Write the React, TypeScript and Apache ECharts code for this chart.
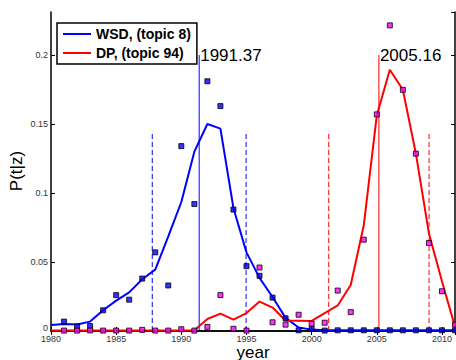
import React, { useEffect, useRef } from "react";
import * as echarts from "echarts";

const startYear = 1980;
const xMin = 1980;
const xMax = 2011;
const yMax = 0.2312;

// smoothed curves, 1980..2011
const wsdLine = [
  0.0044, 0.005, 0.0047, 0.0068, 0.015, 0.022, 0.028, 0.0375, 0.0445, 0.0686,
  0.0935, 0.13, 0.15, 0.1467, 0.089, 0.057, 0.0385, 0.0246, 0.0095, 0.0025,
  0.001, 0.0005, 0.0005, 0.0005, 0.0005, 0.0005, 0.0005, 0.0005, 0.0005, 0.0005,
  0.0005, 0.0005,
];
const dpLine = [
  0.0003, 0.0003, 0.0003, 0.0003, 0.0003, 0.0003, 0.0003, 0.0003, 0.0003, 0.0003,
  0.0003, 0.0006, 0.0087, 0.0126, 0.0082, 0.013, 0.0213, 0.017, 0.0076, 0.0075,
  0.0073, 0.013, 0.0185, 0.0333, 0.0766, 0.1563, 0.1894, 0.1748, 0.1285, 0.0706,
  0.036, 0.003,
];
// raw yearly points, 1981..2011
const dotStartYear = 1981;
const wsdDots = [
  0.0068, 0.0034, 0.0036, 0.015, 0.026, 0.0227, 0.038, 0.057, 0.033, 0.134,
  0.092, 0.181, 0.163, 0.088, 0.047, 0.04, 0.0242, 0.0092, 0.0005, 0.0015,
  0.0003, 0.0005, 0.0005, 0.0005, 0.0005, 0.0005, 0.0005, 0.0005, 0.0005, 0.0005,
  0.0005,
];
const dpDots = [
  0.0003, 0.0003, 0.0004, 0.0003, 0.0003, 0.0003, 0.0008, 0.0003, 0.0003, 0.0013,
  0.0003, 0.003, 0.026, 0.0016, 0.0003, 0.046, 0.0063, 0.0046, 0.0118, 0.0053,
  0.006, 0.0293, 0.0137, 0.0662, 0.157, 0.2215, 0.1748, 0.1285, 0.0638, 0.0288,
  0.0046,
];

const seriesNames = ["WSD, (topic 8)", "DP, (topic 94)"];
const peakYears = [1991.37, 2005.16];
const peakHeight = 0.2;
const lowerYears = [1987.77, 2001.31];
const upperYears = [1994.97, 2009.01];
const bandHeight = 0.145;
const colors = ["#0000ff", "#ff0000"];
const dotColors = ["#0000ff", "#ff00ff"];

const FONT = "Liberation Sans, Arial, Helvetica, sans-serif";

const toPairs = (arr: number[], y0: number) => arr.map((v, i) => [y0 + i, v]);

const vLine = (x: number, h: number, color: string, dashed: boolean, id: string, showLabel: boolean) => ({
  id,
  type: "line",
  data: [
    [x, 0],
    [x, h],
  ],
  symbol: "none",
  silent: true,
  z: 2,
  lineStyle: { color, width: 1, type: dashed ? [5, 3] : "solid" },
  endLabel: showLabel
    ? {
        show: true,
        distance: 1,
        fontSize: 17,
        color: "#000",
        fontFamily: FONT,
        formatter: (p: any) => Number(p.value[0]).toFixed(2),
      }
    : { show: false },
});

export default function App() {
  const ref = useRef<HTMLDivElement>(null);
  useEffect(() => {
    if (!ref.current) return;
    const chart = echarts.init(ref.current, undefined, { renderer: "svg" });
    const axisLine = { show: true, lineStyle: { color: "#000", width: 1.5 } };
    const axisTick = { show: true, inside: true, length: 4, lineStyle: { color: "#000", width: 1 } };
    const xCommon = { type: "value", min: xMin, max: xMax, interval: 5, splitLine: { show: false }, axisLine, axisTick };
    const yCommon = { type: "value", min: 0, max: yMax, interval: 0.05, splitLine: { show: false }, axisLine, axisTick };
    const vSeries: any[] = [];
    [0, 1].forEach((k) => {
      vSeries.push(vLine(peakYears[k], peakHeight, colors[k], false, "peak" + k, true));
      vSeries.push(vLine(lowerYears[k], bandHeight, colors[k], true, "lo" + k, false));
      vSeries.push(vLine(upperYears[k], bandHeight, colors[k], true, "hi" + k, false));
    });
    chart.setOption({
      animation: false,
      textStyle: { fontFamily: FONT },
      grid: { left: 51, top: 12, width: 404, height: 319, containLabel: false },
      xAxis: [
        {
          ...xCommon,
          position: "bottom",
          axisLabel: {
            fontSize: 9,
            lineHeight: 7,
            color: "#333",
            margin: 4,
            fontFamily: FONT,
            showMaxLabel: false,
            formatter: (v: number) => (v % 5 === 0 ? String(v) : ""),
          },
        },
        { ...xCommon, position: "top", axisLabel: { show: false } },
      ],
      yAxis: [
        {
          ...yCommon,
          position: "left",
          axisLabel: {
            fontSize: 9,
            lineHeight: 7,
            color: "#333",
            margin: 3,
            fontFamily: FONT,
            showMaxLabel: false,
            formatter: (v: number) => {
              const r = Math.round(v * 100) / 100;
              if (Math.abs(r - v) > 1e-6) return "";
              return r === 0 ? "{z|0}" : String(r);
            },
            rich: {
              z: { fontSize: 9, color: "#333", fontFamily: FONT, padding: [0, 0, 6, 0] },
            },
          },
        },
        { ...yCommon, position: "right", axisLabel: { show: false } },
      ],
      legend: {
        data: seriesNames,
        orient: "vertical",
        left: 57,
        top: 23,
        padding: [3, 6, 3, 6],
        itemGap: 3,
        itemWidth: 28,
        itemHeight: 2,
        icon: "rect",
        borderColor: "#000",
        borderWidth: 1.5,
        borderRadius: 0,
        backgroundColor: "#fff",
        textStyle: { fontSize: 14, lineHeight: 16, fontWeight: "bold", color: "#000", fontFamily: FONT },
      },
      graphic: [
        {
          type: "text",
          x: 253,
          y: 352,
          style: { text: "year", fontSize: 17, fill: "#000", fontFamily: FONT, align: "center", verticalAlign: "middle" },
        },
        {
          type: "text",
          x: 16,
          y: 171,
          rotation: Math.PI / 2,
          style: { text: "P(t|z)", fontSize: 17, fill: "#000", fontFamily: FONT, align: "center", verticalAlign: "middle" },
        },
      ],
      series: [
        ...vSeries,
        {
          name: seriesNames[0],
          type: "line",
          data: toPairs(wsdLine, startYear),
          symbol: "none",
          lineStyle: { color: colors[0], width: 2 },
          itemStyle: { color: colors[0] },
          z: 3,
        },
        {
          name: seriesNames[1],
          type: "line",
          data: toPairs(dpLine, startYear),
          symbol: "none",
          lineStyle: { color: colors[1], width: 2 },
          itemStyle: { color: colors[1] },
          z: 3,
        },
        {
          name: "wsdDots",
          type: "scatter",
          data: toPairs(wsdDots, dotStartYear),
          symbol: "rect",
          symbolSize: 5,
          clip: false,
          itemStyle: { color: dotColors[0], borderColor: "#000", borderWidth: 1 },
          z: 4,
        },
        {
          name: "dpDots",
          type: "scatter",
          data: toPairs(dpDots, dotStartYear),
          symbol: "rect",
          symbolSize: 5,
          clip: false,
          itemStyle: { color: dotColors[1], borderColor: "#000", borderWidth: 1 },
          z: 4,
        },
      ],
    });
    return () => chart.dispose();
  }, []);
  return (
    <div
      ref={ref}
      style={{ position: "fixed", left: 0, top: 0, width: 456, height: 360, background: "#fff" }}
    />
  );
}
